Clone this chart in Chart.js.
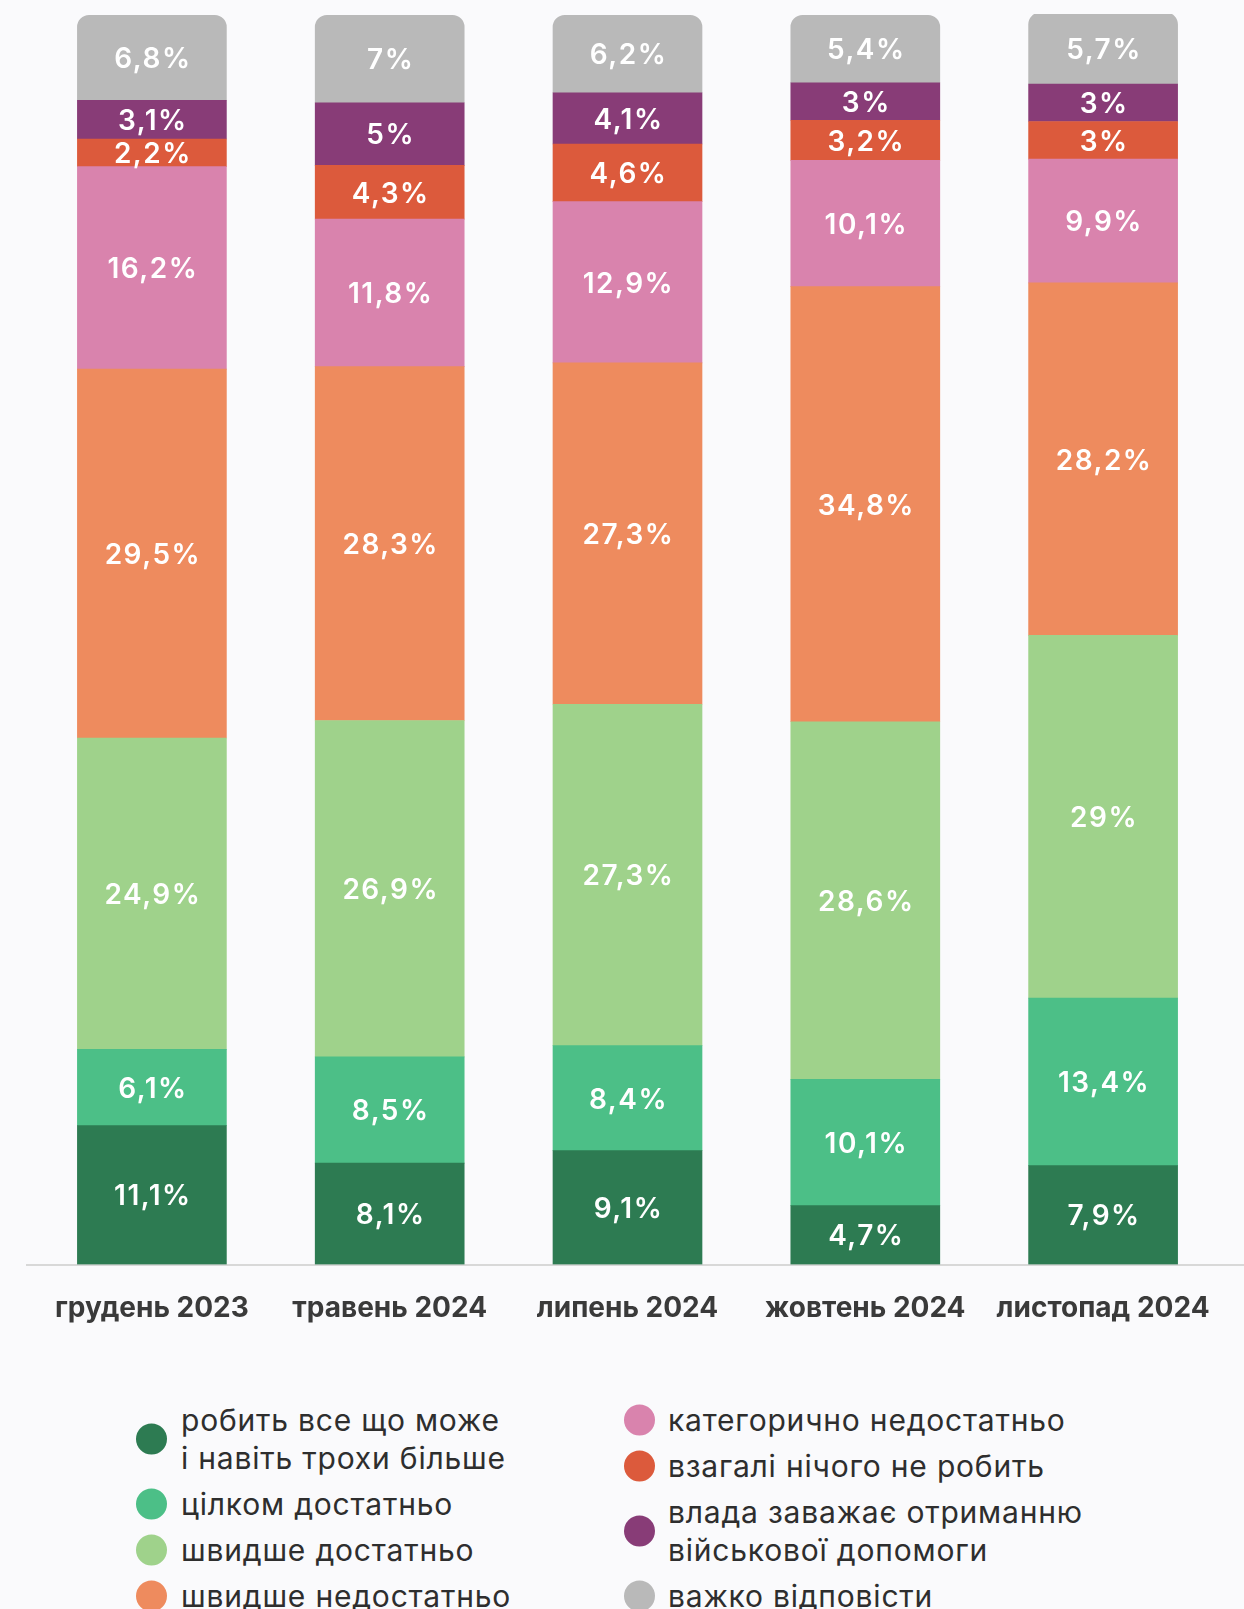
<!DOCTYPE html>
<html>
<head>
<meta charset="utf-8">
<script src="https://cdn.jsdelivr.net/npm/chart.js@4/dist/chart.umd.min.js"></script>
<style>
  html, body { margin: 0; padding: 0; background: #fafafc; width: 1244px; height: 1609px; overflow: hidden; }
  #wrap { position: absolute; left: 0; top: 0; width: 1244px; height: 1370px; }
  #legend { position: absolute; left: 0; top: 1401px; width: 1244px; font-family: Inter, "Noto Sans", sans-serif; font-size: 30px; color: #2e2e2e; letter-spacing: 0.8px; }
  .col { position: absolute; top: 0; }
  .item { position: relative; line-height: 38px; margin-bottom: 8px; white-space: pre-line; }
  .dot { position: absolute; width: 31px; height: 31px; border-radius: 50%; top: 50%; transform: translateY(-50%); }
</style>
</head>
<body>
<div id="wrap"><canvas id="c" width="1244" height="1370"></canvas></div>
<div id="legend"></div>
<script>
const categories = ['грудень 2023', 'травень 2024', 'липень 2024', 'жовтень 2024', 'листопад 2024'];

const seriesNames = [
  'робить все що може\nі навіть трохи більше',
  'цілком достатньо',
  'швидше достатньо',
  'швидше недостатньо',
  'категорично недостатньо',
  'взагалі нічого не робить',
  'влада заважає отриманню\nвійськової допомоги',
  'важко відповісти'
];

const doesEverything   = [11.1, 8.1, 9.1, 4.7, 7.9];
const quiteEnough      = [6.1, 8.5, 8.4, 10.1, 13.4];
const ratherEnough     = [24.9, 26.9, 27.3, 28.6, 29];
const ratherNotEnough  = [29.5, 28.3, 27.3, 34.8, 28.2];
const categoricallyNot = [16.2, 11.8, 12.9, 10.1, 9.9];
const doesNothing      = [2.2, 4.3, 4.6, 3.2, 3];
const hindersAid       = [3.1, 5, 4.1, 3, 3];
const hardToSay        = [6.8, 7, 6.2, 5.4, 5.7];

const seriesValues = [doesEverything, quiteEnough, ratherEnough, ratherNotEnough, categoricallyNot, doesNothing, hindersAid, hardToSay];
const seriesColors = ['#2d7b52', '#4cbf87', '#9fd28b', '#ee8b5e', '#d983ad', '#dc5a3c', '#883c77', '#b9b9b9'];

const datasets = seriesValues.map((vals, i) => ({
  label: seriesNames[i],
  data: vals,
  backgroundColor: seriesColors[i],
  borderWidth: 0,
  barThickness: 149,
  borderRadius: i === seriesValues.length - 1 ? { topLeft: 12, topRight: 12, bottomLeft: 0, bottomRight: 0 } : 0,
  borderSkipped: i === seriesValues.length - 1 ? 'start' : false
}));

const baseLine = {
  id: 'baseLine',
  beforeDatasetsDraw(chart) {
    const ctx = chart.ctx;
    const y = chart.scales.y.getPixelForValue(0);
    ctx.save();
    ctx.strokeStyle = '#cccccc';
    ctx.lineWidth = 1.5;
    ctx.beginPath();
    ctx.moveTo(26, y + 0.5);
    ctx.lineTo(1244, y + 0.5);
    ctx.stroke();
    ctx.restore();
  }
};

const segmentLabels = {
  id: 'segmentLabels',
  afterDatasetsDraw(chart) {
    const ctx = chart.ctx;
    ctx.save();
    ctx.font = '600 28px Inter, "Noto Sans", sans-serif';
    ctx.fillStyle = '#ffffff';
    ctx.textAlign = 'center';
    ctx.textBaseline = 'middle';
    try { ctx.letterSpacing = '1.5px'; } catch (e) {}
    chart.data.datasets.forEach((ds, di) => {
      const meta = chart.getDatasetMeta(di);
      meta.data.forEach((el, j) => {
        const v = ds.data[j];
        const txt = String(v).replace('.', ',') + '%';
        ctx.fillText(txt, el.x + 1, (el.y + el.base) / 2 + 2);
      });
    });
    ctx.restore();
  }
};

const chart = new Chart(document.getElementById('c'), {
  type: 'bar',
  data: { labels: categories, datasets },
  options: {
    responsive: false,
    devicePixelRatio: 1,
    animation: false,
    layout: { padding: { top: 14, left: 33, right: 22, bottom: 18 } },
    plugins: { legend: { display: false }, tooltip: { enabled: false } },
    scales: {
      x: {
        stacked: true,
        grid: { display: false, drawTicks: false },
        border: { display: false },
        ticks: {
          padding: 27,
          color: '#3a3a3a',
          font: { family: 'Inter, "Noto Sans", sans-serif', size: 28, weight: '700' }
        }
      },
      y: {
        stacked: true,
        display: false,
        min: 0,
        max: 100
      }
    }
  },
  plugins: [baseLine, segmentLabels]
});

// HTML legend built from the series arrays
const legend = document.getElementById('legend');
const cols = [{ left: 136, textLeft: 181, idx: [0, 1, 2, 3] }, { left: 624, textLeft: 668, idx: [4, 5, 6, 7] }];
cols.forEach(c => {
  const col = document.createElement('div');
  col.className = 'col';
  col.style.left = c.textLeft + 'px';
  c.idx.forEach(i => {
    const it = document.createElement('div');
    it.className = 'item';
    const dot = document.createElement('span');
    dot.className = 'dot';
    dot.style.background = seriesColors[i];
    dot.style.left = (c.left - c.textLeft) + 'px';
    it.appendChild(dot);
    it.appendChild(document.createTextNode(seriesNames[i]));
    col.appendChild(it);
  });
  legend.appendChild(col);
});
</script>
</body>
</html>
